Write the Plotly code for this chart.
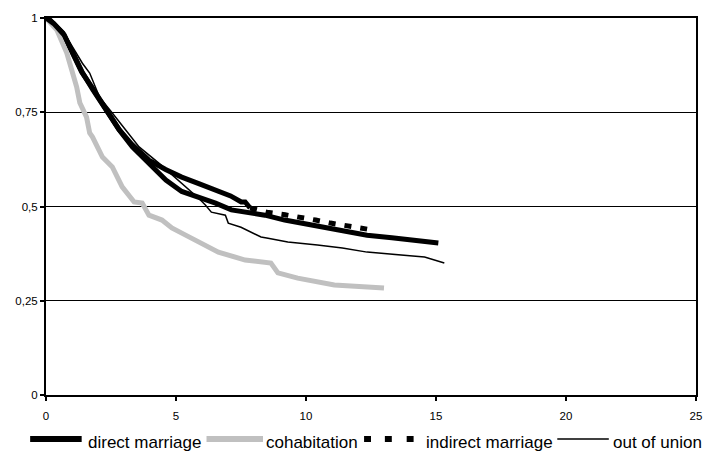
import plotly.graph_objects as go

# Survival curves by type of first union (time in years)
direct_t = [0, 0.15, 0.65, 1.03, 1.37, 1.79, 2.32, 2.82, 3.32, 3.96, 4.61, 5.22, 5.87,
            6.52, 7.13, 7.77, 8.42, 9.18, 9.68, 10.44, 11.4, 12.35, 13.3, 14.25, 15.09]
direct_s = [1.0, 0.995, 0.96, 0.907, 0.857, 0.814, 0.756, 0.703, 0.658, 0.615, 0.57, 0.54, 0.525,
            0.509, 0.491, 0.485, 0.477, 0.464, 0.458, 0.446, 0.435, 0.424, 0.417, 0.411, 0.403]

cohab_t = [0, 0.42, 0.8, 1.18, 1.3, 1.56, 1.68, 1.79, 2.17, 2.55, 2.93, 3.39, 3.7, 3.96,
           4.46, 4.84, 5.37, 5.87, 6.14, 6.63, 7.66, 8.65, 8.92, 9.68, 11.09, 13.0]
cohab_s = [1.0, 0.968, 0.907, 0.817, 0.775, 0.737, 0.695, 0.684, 0.631, 0.605, 0.552, 0.512, 0.509, 0.477,
           0.464, 0.443, 0.424, 0.406, 0.393, 0.379, 0.358, 0.35, 0.324, 0.31, 0.292, 0.284]

indirect_t = [0, 0.3, 0.7, 1.05, 1.4, 1.8, 2.3, 2.8, 3.3, 3.96, 4.6, 5.22, 5.9, 6.52, 7.1, 7.51,
              7.66, 7.85, 8.5, 9.2, 9.79, 10.37, 10.94, 11.59, 12.35]
indirect_s = [1.0, 0.985, 0.955, 0.905, 0.855, 0.81, 0.755, 0.705, 0.665, 0.623, 0.598, 0.578, 0.56, 0.544, 0.528, 0.512,
              0.512, 0.496, 0.485, 0.478, 0.472, 0.464, 0.456, 0.448, 0.44]

out_t = [0, 0.3, 0.7, 1.05, 1.4, 1.68, 2.06, 2.55, 3.0, 3.47, 3.58, 4.34, 5.0, 5.6, 5.9, 6.13, 6.36,
         6.9, 7.01, 7.5, 7.89, 8.27, 8.54, 9.3, 10.44, 11.4, 12.35, 13.3, 14.25, 14.56, 15.32]
out_s = [1.0, 0.99, 0.96, 0.92, 0.88, 0.854, 0.79, 0.748, 0.71, 0.67, 0.658, 0.615, 0.575, 0.54, 0.52, 0.504, 0.485,
         0.477, 0.456, 0.445, 0.432, 0.419, 0.416, 0.406, 0.398, 0.39, 0.379, 0.374, 0.369, 0.366, 0.35]

x_ticks = [0, 5, 10, 15, 20, 25]
y_ticks = [0, 0.25, 0.5, 0.75, 1]
y_tick_text = ["0", "0,25", "0,5", "0,75", "1"]

series_names = ["direct marriage", "cohabitation", "indirect marriage", "out of union"]

GRAY = "#c0c0c0"
FONT = "Liberation Sans, Arial, sans-serif"

fig = go.Figure()
fig.add_trace(go.Scatter(x=direct_t, y=direct_s, mode="lines", name=series_names[0],
                         line=dict(color="black", width=5)))
fig.add_trace(go.Scatter(x=cohab_t, y=cohab_s, mode="lines", name=series_names[1],
                         line=dict(color=GRAY, width=5)))

# the dense early stretch of the dashed series renders as a continuous stroke,
# the sparse tail shows the dash pattern
split = indirect_t.index(7.85)
fig.add_trace(go.Scatter(x=indirect_t[:split + 1], y=indirect_s[:split + 1], mode="lines",
                         name=series_names[2], line=dict(color="black", width=5)))
fig.add_trace(go.Scatter(x=indirect_t[split:], y=indirect_s[split:], mode="lines",
                         name=series_names[2], line=dict(color="black", width=5, dash="7px,9px")))
fig.add_trace(go.Scatter(x=out_t, y=out_s, mode="lines", name=series_names[3],
                         line=dict(color="black", width=1.5)))

# plot area geometry in pixels (for the hand-built legend below the axis)
L, R, T, B = 46, 10, 18, 58
W, H = 712, 453
PW, PH = W - L - R, H - T - B


def px(xp):
    return (xp - L) / PW


def py(yp):
    return (H - B - yp) / PH


shapes = []
annotations = []
leg_y = 439


def seg(x0, x1, col, w):
    shapes.append(dict(type="line", xref="paper", yref="paper",
                       x0=px(x0), x1=px(x1), y0=py(leg_y), y1=py(leg_y),
                       line=dict(color=col, width=w)))


# legend keys
seg(30, 82, "black", 6)
seg(208, 265, GRAY, 6)
for d0 in (367, 388, 410):          # three dashes for the dashed key
    seg(d0, d0 + 7, "black", 6)
seg(562, 614, "black", 1.5)

text_x = [86, 266, 427, 616]
for tx, name in zip(text_x, series_names):
    annotations.append(dict(xref="paper", yref="paper", x=px(tx), y=py(leg_y + 3),
                            xanchor="left", yanchor="middle", showarrow=False, text=name,
                            font=dict(family=FONT, size=17, color="black")))

fig.update_layout(
    width=W, height=H,
    margin=dict(l=L, r=R, t=T, b=B),
    paper_bgcolor="white", plot_bgcolor="white",
    showlegend=False,
    shapes=shapes,
    annotations=annotations,
    font=dict(family=FONT, size=11.5, color="black"),
)
fig.update_xaxes(range=[0, 25], tickvals=x_ticks, ticks="outside", ticklen=4, tickwidth=1.5,
                 tickcolor="black", showline=True, linecolor="black", linewidth=2, mirror=True,
                 showgrid=False, zeroline=False, tickfont=dict(size=11.5), ticklabelstandoff=5)
fig.update_yaxes(range=[0, 1], tickvals=y_ticks, ticktext=y_tick_text, ticks="outside", ticklen=4,
                 tickwidth=1.5, tickcolor="black", showline=True, linecolor="black", linewidth=2,
                 mirror=True, showgrid=True, gridcolor="black", gridwidth=1, zeroline=False,
                 tickfont=dict(size=11.5))

fig.write_html("out.html")
